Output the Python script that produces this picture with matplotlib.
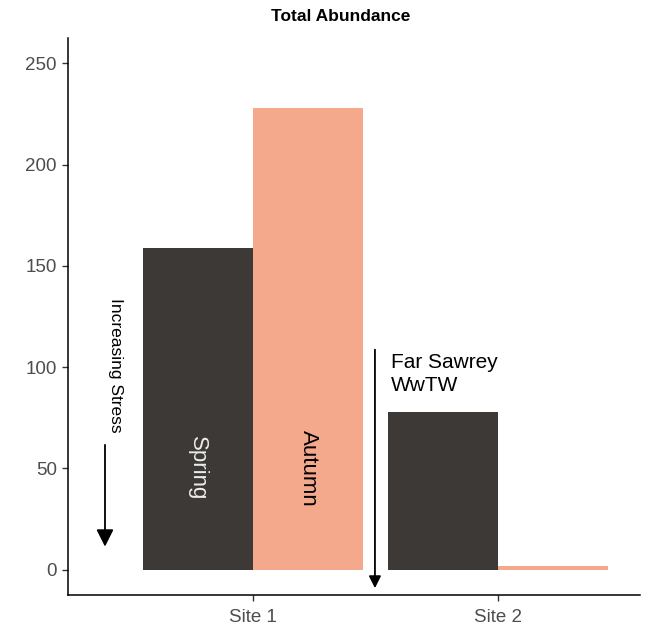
import matplotlib
matplotlib.use("Agg")
import matplotlib.pyplot as plt
import numpy as np

plt.rcParams['font.family'] = ['Liberation Sans', 'DejaVu Sans']

sites = ["Site 1", "Site 2"]
seasons = ["Spring", "Autumn"]
spring = [159, 78]
autumn = [228, 2]
colors = {"Spring": "#3D3936", "Autumn": "#F4A98C"}
title = "Total Abundance"
yticks = [0, 50, 100, 150, 200, 250]

fig = plt.figure(figsize=(6.52, 6.28), dpi=100)
ax = fig.add_axes([68/652, 33/628, 572/652, 557/628])

x = np.arange(1, len(sites) + 1)
w = 0.45
ax.bar(x - w/2, spring, width=w, color=colors["Spring"])
ax.bar(x + w/2, autumn, width=w, color=colors["Autumn"])

ax.set_xlim(0.245, 2.58)
ax.set_ylim(-12.5, 262.5)
ax.set_xticks(x)
ax.set_xticklabels(sites)
ax.set_yticks(yticks)
for s in ["top", "right"]:
    ax.spines[s].set_visible(False)
for s in ["left", "bottom"]:
    ax.spines[s].set_linewidth(1.1)
    ax.spines[s].set_color("black")
ax.tick_params(axis="both", labelsize=13.5, labelcolor="#4D4D4D", color="#333333",
               length=4, width=1)
ax.tick_params(axis="x", pad=6)
ax.tick_params(axis="y", pad=4)

ax.set_title(title, fontsize=12.5, fontweight="bold", x=0.477, pad=12)

# Season labels inside bars
ax.text(1 - w/2, 50, "Spring", rotation=-90, ha="center", va="center",
        fontsize=16, color="#EDEDED")
ax.text(1 + w/2, 50, "Autumn", rotation=-90, ha="center", va="center",
        fontsize=16, color="black")

# Increasing stress arrow
ax.annotate("", xy=(0.396, 10), xytext=(0.396, 63),
            arrowprops=dict(arrowstyle="-|>", mutation_scale=26, lw=1.3, color="black"))
ax.text(0.44, 101, "Increasing Stress", rotation=-90, ha="center", va="center",
        fontsize=12.5, color="black")

# Far Sawrey arrow
ax.annotate("", xy=(1.498, -10.5), xytext=(1.498, 110),
            arrowprops=dict(arrowstyle="-|>", mutation_scale=18, lw=1.3, color="black"))
ax.text(1.565, 107, "Far Sawrey\nWwTW", ha="left", va="top", fontsize=15,
        color="black", linespacing=1.3)

fig.savefig("out.png", dpi=100)
